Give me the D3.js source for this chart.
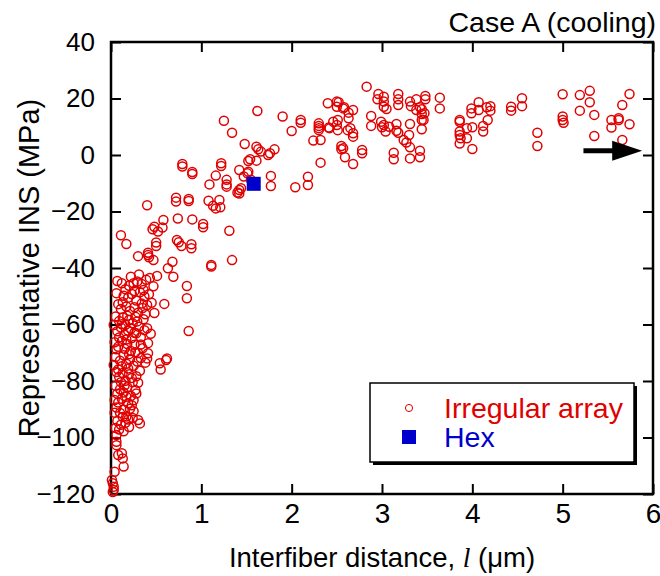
<!DOCTYPE html>
<html>
<head>
<meta charset="utf-8">
<script src="https://cdn.jsdelivr.net/npm/d3@7"></script>
<style>
    body { margin: 0; background: #fff; }
    svg { display: block; font-family: "Liberation Sans", Arial, sans-serif; }
</style>
</head>
<body>
<svg id="chart" width="660" height="576"></svg>
<script>
// irregular array: [interfiber distance l (um), representative INS (MPa)]
var irregularArray = [
    // steep part near l = 0
    [0.12,-45.4],[0.16,-47.5],[0.20,-46.3],[0.25,-45.4],[0.29,-44.8],[0.34,-45.7],[0.39,-44.2],[0.43,-43.5],
    [0.47,-46.5],[0.51,-42.8],[0.14,-49.8],[0.19,-50.5],[0.23,-49.2],[0.28,-51.5],[0.32,-48.6],[0.37,-50.1],
    [0.42,-49.3],[0.45,-52.3],[0.08,-52.8],[0.11,-54.5],[0.17,-53.6],[0.21,-55.2],[0.26,-53.9],[0.30,-55.8],
    [0.35,-54.2],[0.40,-53.1],[0.59,-52.7],[0.48,-55.9],
    [0.05,-57.2],[0.09,-58.8],[0.13,-57.5],[0.16,-60.1],[0.20,-58.4],[0.24,-59.6],[0.27,-57.3],[0.31,-60.8],
    [0.36,-58.1],[0.40,-61.3],[0.07,-62.4],[0.11,-61.1],[0.15,-63.6],[0.19,-62.2],[0.23,-64.8],[0.28,-63.1],
    [0.33,-64.5],[0.44,-63.3],[0.86,-62.3],
    [0.04,-66.3],[0.08,-67.9],[0.12,-65.8],[0.15,-68.6],[0.18,-66.9],[0.22,-69.4],[0.26,-67.2],[0.30,-70.1],
    [0.35,-68.4],[0.41,-66.6],[0.41,-70.2],[0.05,-71.5],[0.10,-72.8],[0.14,-70.9],[0.17,-73.9],[0.21,-72.3],
    [0.25,-74.6],[0.29,-73.1],[0.33,-71.9],[0.38,-73.5],[0.40,-72.0],[0.54,-73.7],[0.55,-75.9],[0.61,-72.6],
    [0.62,-72.0],[0.03,-74.3],
    [0.06,-76.8],[0.09,-78.5],[0.13,-77.2],[0.16,-79.9],[0.20,-77.6],[0.24,-80.4],[0.28,-78.3],[0.32,-76.4],
    [0.05,-81.7],[0.10,-82.9],[0.14,-84.1],[0.18,-82.2],[0.22,-85.3],[0.27,-83.2],[0.28,-84.4],[0.04,-86.7],
    [0.08,-87.6],[0.12,-86.3],[0.19,-87.9],[0.25,-86.8],
    [0.06,-89.4],[0.10,-91.3],[0.14,-90.2],[0.17,-92.6],[0.21,-89.8],[0.24,-93.1],[0.07,-94.2],[0.11,-95.5],
    [0.16,-94.8],[0.20,-96.3],[0.30,-93.8],[0.32,-95.0],[0.09,-97.2],
    [0.07,-44.6],[0.22,-43.1],[0.31,-42.3],[0.36,-47.8],[0.06,-48.9],[0.26,-48.1],[0.13,-52.1],[0.34,-52.6],
    [0.18,-56.9],[0.29,-58.9],[0.38,-56.4],[0.03,-60.2],[0.12,-59.9],[0.22,-61.5],[0.26,-62.9],[0.09,-64.6],
    [0.17,-65.3],[0.37,-62.0],[0.06,-68.8],[0.20,-70.5],[0.27,-69.8],[0.33,-67.1],[0.12,-74.8],[0.19,-75.6],
    [0.08,-75.9],[0.23,-78.9],[0.11,-80.4],[0.15,-81.6],[0.30,-80.6],[0.07,-84.5],[0.17,-85.6],[0.23,-88.6],
    [0.13,-92.7],[0.04,-91.2],[0.19,-93.6],[0.25,-90.7],[0.05,-96.6],[0.14,-97.8],
    [0.06,-99.1],[0.06,-101.5],[0.06,-102.7],[0.12,-105.6],[0.13,-107.4],[0.14,-110.3],[0.08,-106.2],[0.04,-112.1],
    [0.01,-115.0],[0.02,-116.2],[0.03,-117.4],[0.03,-118.6],[0.02,-119.3],
    // rising part
    [0.11,-28.4],[0.17,-31.5],[0.30,-35.8],[0.40,-17.8],[0.41,-35.4],[0.42,-36.2],[0.47,-37.2],[0.41,-34.6],
    [0.50,-31.0],[0.50,-32.2],[0.46,-26.3],[0.48,-25.4],[0.52,-27.1],[0.57,-25.7],[0.58,-23.0],[0.74,-22.5],
    [0.72,-15.1],[0.72,-16.5],[0.73,-30.1],[0.75,-30.9],[0.78,-32.2],[0.63,-40.1],[0.68,-37.8],[0.69,-43.1],
    [0.84,-46.4],[0.84,-50.7],[0.79,-3.2],[0.79,-4.1],[0.90,-6.0],[0.90,-6.7],[0.86,-15.6],[0.86,-16.3],
    [0.90,-22.8],[1.02,-24.4],[1.02,-25.6],[0.89,-31.6],[0.89,-33.0],[1.11,-38.9],[1.11,-39.5],[1.31,-26.8],
    [1.34,-37.2],[1.08,-16.2],[1.13,-18.0],[1.16,-18.9],[1.21,-18.5],[1.20,-15.9],[1.09,-10.4],[1.16,-7.3],
    [1.22,-2.9],[1.22,-3.9],[1.28,-8.8],[1.28,-10.4],[1.28,-11.2],[1.25,12.1],[1.34,7.9],[1.42,-5.3],
    [1.42,-12.4],[1.42,-13.6],[1.40,-13.3],[1.48,3.9],[1.52,-2.1],[1.54,-1.5],[1.51,-6.5],[1.52,-5.9],
    [1.47,-7.6],[1.44,-11.8],[1.55,-8.8],[1.61,-2.0],[1.62,15.6],[1.61,2.9],[1.63,2.0],[1.66,1.2],
    [1.74,0.0],[1.76,0.6],[1.81,2.0],[1.77,-7.4],[1.77,-11.0],[1.90,13.6],[2.00,8.5],[2.04,-11.4],
    [2.10,12.4],[2.10,11.4],[2.18,-7.7],[2.18,-10.6],[2.24,5.1],[2.30,10.3],[2.30,9.5],[2.32,5.3],
    [2.32,-2.7],[2.40,18.3],[2.41,9.7],[2.30,11.2],[2.30,8.8],
    // plateau
    [2.83,24.2],[2.96,21.6],[2.95,19.7],[3.02,20.6],[3.02,18.9],[3.05,16.3],[3.18,21.6],[3.18,19.7],
    [3.18,17.7],[3.31,18.9],[3.32,17.3],[3.38,19.7],[3.48,20.9],[3.48,19.7],[3.64,20.3],[3.64,16.5],
    [3.44,16.2],[3.44,14.5],[3.44,12.4],[3.44,9.1],[3.38,15.9],[3.31,11.0],[3.30,7.1],[3.31,2.7],
    [3.31,-1.2],[3.42,1.5],[3.42,-0.8],[3.24,5.3],[3.27,4.4],[3.16,11.0],[3.16,8.6],[3.18,7.9],
    [3.13,0.8],[3.13,-1.5],[2.88,13.8],[2.88,10.3],[2.99,11.8],[3.00,9.8],[3.04,8.3],[3.08,10.0],
    [2.78,1.8],[2.78,0.6],[2.68,-3.2],[2.68,7.7],[2.68,6.5],[2.68,15.9],[2.63,15.0],[2.63,13.0],
    [2.62,8.8],[2.58,16.9],[2.52,18.7],[2.51,12.4],[2.50,10.6],[2.51,8.8],[2.42,9.5],[2.55,3.2],
    [2.55,2.0],[2.59,-0.8],[2.50,18.9],[2.50,17.1],[2.57,16.5],[2.46,11.8],[2.65,9.5],[2.57,2.4],
    [3.42,16.9],[3.47,14.8],[3.46,12.4],[3.02,17.1],[3.02,10.6],
    [3.86,12.4],[3.86,11.8],[3.86,8.3],[3.86,7.1],[3.87,5.9],[3.86,4.1],[3.94,9.5],[3.94,5.9],
    [4.00,9.8],[4.00,2.1],[3.99,16.5],[3.99,14.8],[4.07,18.7],[4.07,15.9],[4.12,10.3],[4.12,8.3],
    [4.17,12.4],[4.20,17.3],[4.20,15.7],[4.16,16.9],[4.43,17.1],[4.43,15.7],[4.55,20.1],[4.55,17.3],
    [4.72,7.9],[4.72,3.2],[5.00,21.5],[5.00,13.6],[5.00,12.4],[5.01,11.4],[5.19,21.2],[5.30,22.7],
    [5.30,18.7],[5.19,15.7],[5.35,14.2],[5.35,6.7],[5.54,12.4],[5.54,9.7],[5.62,13.0],[5.62,12.4],
    [5.66,17.7],[5.74,21.6],[5.74,10.9],[5.66,5.3]
];
var hexArray = [[1.58, -10.2]];

var xTicks = [0, 1, 2, 3, 4, 5, 6];
var yTicks = [-120, -100, -80, -60, -40, -20, 0, 20, 40];

// arrow marking the plateau (data coords)
var arrowFrom = [5.23, 1.5];
var arrowTo = [5.88, 1.5];

var RED = "#e00000", BLUE = "#0000cc";

var svg = d3.select("#chart"),
    margin = {top: 42, right: 7, bottom: 82, left: 111},
    width = +svg.attr("width") - margin.left - margin.right,
    height = +svg.attr("height") - margin.top - margin.bottom;

var x = d3.scaleLinear().domain([0, 6]).range([0, width]),
    y = d3.scaleLinear().domain([-120, 40]).range([height, 0]);

var g = svg.append("g")
    .attr("transform", "translate(" + margin.left + "," + margin.top + ")");

// axes, ticks pointing inward on all four sides
var styleAxis = function(sel, fontSize){
    sel.select(".domain").remove();
    sel.selectAll(".tick line").attr("stroke", "#000").attr("stroke-width", 2);
    sel.selectAll(".tick text").attr("fill", "#000").attr("font-size", fontSize)
        .attr("font-family", "Liberation Sans, Arial, sans-serif");
};

g.append("g")
    .attr("transform", "translate(0," + height + ")")
    .call(d3.axisBottom(x).tickValues(xTicks).tickSizeInner(-10).tickSizeOuter(0).tickPadding(9).tickFormat(d3.format("d")))
    .call(styleAxis, 28);
g.append("g")
    .call(d3.axisTop(x).tickValues(xTicks).tickSizeInner(-10).tickSizeOuter(0).tickFormat(""))
    .call(styleAxis, 0);
g.append("g")
    .call(d3.axisLeft(y).tickValues(yTicks).tickSizeInner(-10).tickSizeOuter(0).tickPadding(16).tickFormat(d3.format("d")))
    .call(styleAxis, 26);
g.append("g")
    .attr("transform", "translate(" + width + ",0)")
    .call(d3.axisRight(y).tickValues(yTicks).tickSizeInner(-10).tickSizeOuter(0).tickFormat(""))
    .call(styleAxis, 0);

g.append("rect")
    .attr("width", width).attr("height", height)
    .attr("fill", "none").attr("stroke", "#000").attr("stroke-width", 2.5);

// points
g.append("g").selectAll("circle")
    .data(irregularArray)
    .enter().append("circle")
    .attr("cx", function(d){ return x(d[0]); })
    .attr("cy", function(d){ return y(d[1]); })
    .attr("r", 4.5)
    .attr("fill", "none")
    .attr("stroke", RED)
    .attr("stroke-width", 1.5);

g.append("g").selectAll("rect")
    .data(hexArray)
    .enter().append("rect")
    .attr("x", function(d){ return x(d[0]) - 7; })
    .attr("y", function(d){ return y(d[1]) - 7; })
    .attr("width", 14).attr("height", 14)
    .attr("fill", BLUE);

// arrow
var ax0 = x(arrowFrom[0]), ax1 = x(arrowTo[0]), ay = y(arrowFrom[1]);
g.append("line")
    .attr("x1", ax0).attr("x2", ax1 - 28).attr("y1", ay).attr("y2", ay)
    .attr("stroke", "#000").attr("stroke-width", 5);
g.append("path")
    .attr("d", "M" + ax1 + "," + ay + "L" + (ax1 - 30) + "," + (ay - 10) + "L" + (ax1 - 30) + "," + (ay + 10) + "Z")
    .attr("fill", "#000");

// legend
var lg = svg.append("g").attr("transform", "translate(370,383)");
lg.append("rect").attr("x", 3).attr("y", 3).attr("width", 264).attr("height", 79).attr("fill", "#000");
lg.append("rect").attr("width", 264).attr("height", 79).attr("fill", "#fff").attr("stroke", "#000").attr("stroke-width", 1.5);
lg.append("circle").attr("cx", 39).attr("cy", 25).attr("r", 3.6)
    .attr("fill", "none").attr("stroke", RED).attr("stroke-width", 1);
lg.append("rect").attr("x", 32).attr("y", 47).attr("width", 14).attr("height", 14).attr("fill", BLUE);
lg.append("text").attr("x", 74).attr("y", 35).attr("font-size", 28.5).attr("fill", RED).text("Irregular array");
lg.append("text").attr("x", 74).attr("y", 64).attr("font-size", 28.5).attr("fill", BLUE).text("Hex");

// titles
svg.append("text")
    .attr("x", 656).attr("y", 32)
    .attr("text-anchor", "end").attr("font-size", 28.5)
    .text("Case A (cooling)");

var xt = svg.append("text")
    .attr("x", margin.left + width / 2).attr("y", 567)
    .attr("text-anchor", "middle").attr("font-size", 27.5);
xt.append("tspan").text("Interfiber distance, ");
xt.append("tspan").attr("font-family", "Liberation Serif, Times New Roman, serif").attr("font-style", "italic").text("l");
xt.append("tspan").text(" (μm)");

svg.append("text")
    .attr("transform", "translate(39," + (margin.top + height / 2) + ") rotate(-90)")
    .attr("text-anchor", "middle").attr("font-size", 29)
    .text("Representative INS (MPa)");
</script>
</body>
</html>
